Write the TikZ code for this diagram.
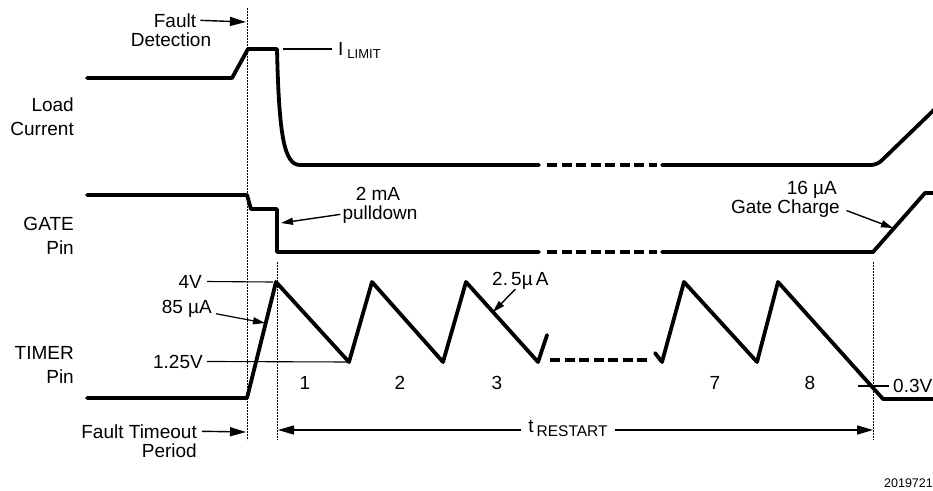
\documentclass[tikz,border=0pt]{standalone}
\usepackage{fontspec}
\setmainfont{Liberation Sans}
\usetikzlibrary{arrows.meta}

\tikzset{
	wave/.style={line width=3.8pt, line join=round, line cap=round},
	gapwave/.style={line width=3.8pt, dash pattern=on 10pt off 4.5pt},
	guide/.style={line width=0.9pt, dash pattern=on 1.6pt off 1.4pt},
	lead/.style={line width=1.1pt},
	pointer/.style={line width=1.4pt, -{Triangle[length=12pt, width=7pt]}},
	bigpointer/.style={line width=1.4pt, -{Triangle[length=16pt, width=9pt]}},
}

\begin{document}
\begin{tikzpicture}[x=1pt, y=-1pt, every node/.style={font=\fontsize{19}{24}\selectfont, inner sep=0pt}]
				            \useasboundingbox (0,0) rectangle (933,490);
				            \def\tpk{282}
				            \def\tlo{362}

				            % guides
				            \draw [guide](247,8)--(247,440);
				            \draw [guide](277,262)--(277,440);
				            \draw [guide](873,262)--(873,440);

				            % signal names
				            \node (load)[anchor=east, align=right] at (74,117) {Load\\Current};
				            \node (gate)[anchor=east, align=right] at (74,236) {GATE\\Pin};
				            \node (timer)[anchor=east, align=right] at (74,365) {TIMER\\Pin};

				            % load current
				            \draw [wave](87,78)--(232,78)--(248,49)--(277,49) .. controls (279,135) and (284,165) .. (300,165)--(539,165);
				            \draw [gapwave](547,165)--(657,165);
				            \draw [wave, rounded corners=6pt](662,165)--(877,165)--(938,106);

				            % gate pin
				            \draw [wave](87,195)--(247,195)--(251,209)--(277,209)--(277,252)--(539,252);
				            \draw [gapwave](547,252)--(657,252);
				            \draw [wave](662,252)--(873,252)--(925,193)--(940,193);

				            % timer pin
				            \draw [wave](87,398)--(247,398)--(276,\tpk)--(349,\tlo)--(372,\tpk)--(443,\tlo)--(466,\tpk)--(538,\tlo)--(547,335);
				            \draw [gapwave](550,360)--(647,360);
				            \draw [wave](655,353)--(662,\tlo)--(684,\tpk)--(757,\tlo)--(778,\tpk)--(883,399)--(940,399);

				            \foreach \x/\n in {305/1, 400/2, 497/3, 715/7, 810/8}{
						            \node (c\n) at (\x,383) {\n};
					            }

				            % targets
				            \coordinate (fdet) at (246,22);
				            \coordinate (ilim) at (283,49);
				            \coordinate (pd) at (281,223);
				            \coordinate (v4) at (273,\tpk);
				            \coordinate (r85) at (265,323);
				            \coordinate (v125) at (349,\tlo);
				            \coordinate (r25) at (493,312);
				            \coordinate (gch) at (893,228);
				            \coordinate (fto) at (246,432);
				            \coordinate (rsL) at (278,430);
				            \coordinate (rsR) at (873,430);

				            % labels
				            \node (fault)[anchor=base] at (175,27) {Fault};
				            \node (detect)[anchor=base] at (171,46) {Detection};
				            \draw [bigpointer, shorten <=4pt](fault.east)--(fdet);

				            \node (ilimit)[anchor=base west] at (338,55) {I\hspace{4pt}\raisebox{-3pt}{\fontsize{13}{13}\selectfont LIMIT}};
				            \draw [lead, shorten >=6pt](ilim)--(ilim -| ilimit.west);

				            \node (pdA)[anchor=base] at (378,200) {2 mA};
				            \node (pdB)[anchor=base] at (380,219) {pulldown};
				            \draw [pointer, shorten <=2pt](pdB.west)--(pd);

				            \node (v4l)[anchor=base east] at (202,288) {4V};
				            \draw [lead, shorten <=5pt](v4l.east)--(v4);

				            \node (ua85)[anchor=base east] at (212,313) {85 µA};
				            \draw [pointer, line width=1.2pt, shorten <=4pt](ua85.base east)--(r85);

				            \node (v125l)[anchor=base east] at (203,368) {1.25V};
				            \draw [lead, shorten <=4pt](v125l.east)--(v125);

				            \node (ua25)[anchor=base west] at (492,285) {2.\,5µ\,A};
				            \draw [pointer]([xshift=-5pt]ua25.south)--(r25);

				            \node (gc1)[anchor=base east] at (837,194) {16 µA};
				            \node (gc2)[anchor=base east] at (840,213) {Gate Charge};
				            \draw [pointer, shorten <=7pt](gc2.east)--(gch);

				            \node (ft1)[anchor=base east] at (197,438) {Fault Timeout};
				            \node (ft2)[anchor=base east] at (197,457) {Period};
				            \draw [bigpointer, shorten <=5pt](ft1.east)--(fto);

				            \node (trs)[inner xsep=7pt] at (568,428) {t\hspace{3pt}\raisebox{-4pt}{\fontsize{15.5}{15}\selectfont RESTART}};
				            \draw [bigpointer](rsL -| trs.west)--(rsL);
				            \draw [bigpointer](rsR -| trs.east)--(rsR);

				            \node (v03)[anchor=west] at (893,386) {0.3V};
				            \draw [lead](v03.west)++(-4,0)--++(-31,0);

				            \node (fig)[anchor=base east, font=\fontsize{12.5}{13}\selectfont] at (933,487) {2019721};
			            \end{tikzpicture}
\end{document}
